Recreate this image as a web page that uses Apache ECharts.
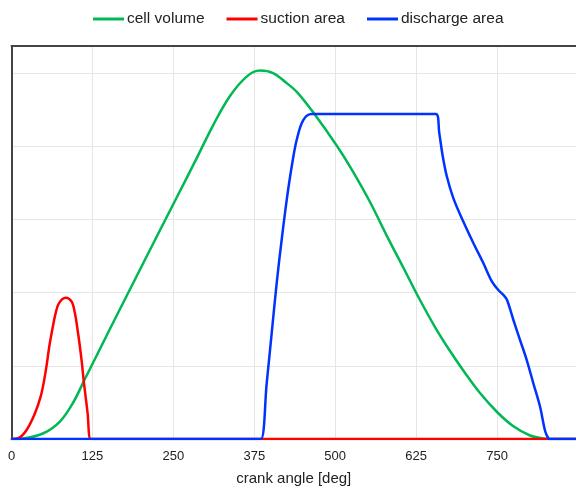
<!DOCTYPE html>
<html>
<head>
<meta charset="utf-8">
<script src="https://cdn.jsdelivr.net/npm/echarts@6/dist/echarts.min.js"></script>
<style>
  html, body { margin: 0; padding: 0; background: #fff; }
  #chart { width: 576px; height: 486px; }
</style>
</head>
<body>
<div id="chart"></div>
<script>
// Crank angle [deg] vs. normalised chamber quantities
const seriesNames = ['cell volume', 'suction area', 'discharge area'];
const xTicks = [0, 125, 250, 375, 500, 625, 750];

const cellVolume = [
  [0, 0], [17.6, 0.007], [48.5, 0.075], [74.8, 0.239], [94.9, 0.492], [113.4, 0.82],
  [132, 1.148], [152, 1.503], [182.9, 2.042], [213.8, 2.582], [254, 3.279],
  [286.5, 3.845], [311.2, 4.283], [337.5, 4.686], [363.7, 4.955], [383.8, 5.034],
  [404, 5.0], [424, 4.87], [441, 4.74], [465.7, 4.467], [502.8, 4.003],
  [527.5, 3.654], [553.8, 3.238], [580, 2.773], [604.8, 2.35], [631, 1.899],
  [654.2, 1.53], [677.4, 1.202], [700.6, 0.902], [723.7, 0.628], [750, 0.369],
  [774.7, 0.178], [801, 0.048], [821, 0.007], [832, 0], [845, 0], [872, 0]
];

const suctionArea = [
  [0, 0], [10.4, 0.01], [23.3, 0.123], [36.2, 0.351], [45, 0.578], [50.5, 0.806],
  [54.7, 1.034], [58.3, 1.261], [62.9, 1.489], [68.1, 1.717], [73.2, 1.854],
  [83.6, 1.93], [92.9, 1.876], [98, 1.717], [102.1, 1.489], [105.7, 1.261],
  [108.8, 1.034], [111.4, 0.806], [114.5, 0.578], [117.6, 0.351], [122.2, 0],
  [130, 0], [872, 0]
];

const dischargeArea = [
  [0, 0], [375, 0], [385.3, 0], [394.2, 0.761], [401.9, 1.444], [409.6, 2.127],
  [417.3, 2.719], [425.1, 3.265], [432.8, 3.72], [440.5, 4.085], [450.7, 4.358],
  [463.7, 4.44], [655.7, 4.44], [660.8, 4.18], [666.1, 3.866], [672.3, 3.593],
  [682.5, 3.292], [697.9, 2.971], [713.4, 2.678], [728.8, 2.404], [741.8, 2.158],
  [752, 2.036], [760.8, 1.96], [765.5, 1.899], [775.3, 1.626], [785.6, 1.352],
  [795.9, 1.079], [806.1, 0.761], [816.5, 0.441], [824.3, 0.109], [829.4, 0.007],
  [832, 0], [845, 0], [872, 0]
];

const colors = ['#00b854', '#ff0000', '#0033ff'];
const font = 'Liberation Sans, Arial, sans-serif';

const chart = echarts.init(document.getElementById('chart'), null, { renderer: 'canvas' });

function line(name, data, color) {
  return {
    name: name,
    type: 'line',
    data: data,
    showSymbol: false,
    symbol: 'none',
    smooth: 0.35,
    lineStyle: { color: color, width: 2.5 },
    itemStyle: { color: color },
    emphasis: { disabled: true },
    animation: false
  };
}

chart.setOption({
  animation: false,
  color: colors,
  legend: {
    top: 6,
    left: 88,
    icon: 'rect',
    itemWidth: 31,
    itemHeight: 3,
    itemGap: 22,
    textStyle: { fontSize: 15.5, color: '#222', fontFamily: font, padding: [0, 0, 0, -2] },
    data: seriesNames
  },
  grid: {
    left: 11.5, right: 0, top: 46, bottom: 47,
    containLabel: false,
    outerBoundsMode: 'none'
  },
  xAxis: [{
    type: 'value',
    min: 0,
    max: 872,
    interval: 125,
    name: 'crank angle [deg]',
    nameLocation: 'middle',
    nameGap: 32,
    nameTextStyle: { fontSize: 15, color: '#222', fontFamily: font },
    axisLine: { show: true, lineStyle: { color: '#444', width: 2 } },
    axisTick: { show: false },
    axisLabel: {
      fontSize: 13, color: '#222', fontFamily: font, margin: 11,
      showMaxLabel: false,
      formatter: v => (xTicks.indexOf(v) >= 0 ? String(v) : '')
    },
    splitLine: { show: true, lineStyle: { color: '#e6e6e6', width: 1 } }
  }, {
    type: 'value',
    position: 'top',
    min: 0,
    max: 872,
    axisLine: { show: true, lineStyle: { color: '#444', width: 2 } },
    axisTick: { show: false },
    axisLabel: { show: false },
    splitLine: { show: false }
  }],
  yAxis: {
    type: 'value',
    min: 0,
    max: 5.37,
    interval: 1,
    axisLine: { show: true, lineStyle: { color: '#444', width: 2 } },
    axisTick: { show: false },
    axisLabel: { show: false },
    splitLine: { show: true, lineStyle: { color: '#e6e6e6', width: 1 } }
  },
  series: [
    line(seriesNames[0], cellVolume, colors[0]),
    line(seriesNames[1], suctionArea, colors[1]),
    line(seriesNames[2], dischargeArea, colors[2])
  ]
});
</script>
</body>
</html>
